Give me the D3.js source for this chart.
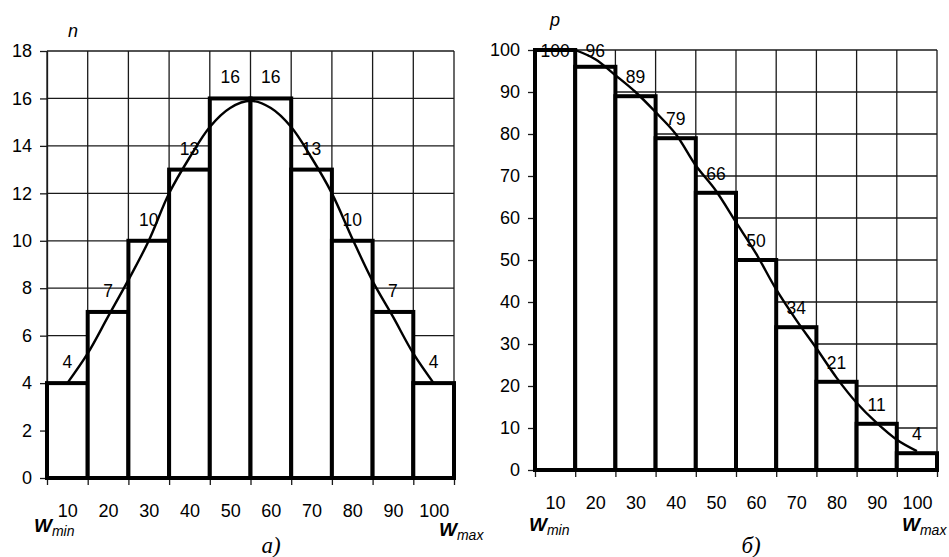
<!DOCTYPE html>
<html><head><meta charset="utf-8">
<script src="https://cdn.jsdelivr.net/npm/d3@7"></script>
<style>
html,body{margin:0;padding:0;background:#fff;}
svg{display:block;font-family:"Liberation Sans",Arial,sans-serif;}
</style></head>
<body>
<svg id="chart" width="949" height="557"></svg>
<script>
// ---- data ----
const binCenters = [10, 20, 30, 40, 50, 60, 70, 80, 90, 100];
const binEdges = [5, 15, 25, 35, 45, 55, 65, 75, 85, 95, 105];
const tickLabels = ["10", "20", "30", "40", "50", "60", "70", "80", "90", "100"];
const countValues = [4, 7, 10, 13, 16, 16, 13, 10, 7, 4];
const probValues = [100, 96, 89, 79, 66, 50, 34, 21, 11, 4];
const countTicks = [0, 2, 4, 6, 8, 10, 12, 14, 16, 18];
const probTicks = [0, 10, 20, 30, 40, 50, 60, 70, 80, 90, 100];
const countCurveX = [10, 15, 20, 25, 30, 35, 40, 45, 50, 55, 60, 65, 70, 75, 80, 85, 90, 95, 100];
const countCurveY = [4.0, 5.25, 6.8, 8.35, 10.0, 12.0, 13.5, 14.8, 15.6, 15.9, 15.6, 14.8, 13.5, 12.0, 10.1, 8.3, 6.8, 5.25, 4.0];
const probCurveX = [15, 20, 25, 30, 35, 40, 45, 50, 55, 60, 65, 70, 75, 80, 85, 90, 95, 100];
const probCurveY = [100, 97.8, 94, 90, 85.2, 80, 72.5, 66.5, 59, 51.5, 43, 35.7, 29, 22, 16, 11.2, 7.2, 4.5];

const svg = d3.select("#chart");

function panel(cfg) {
  const g = svg.append("g");
  const x = d3.scaleLinear().domain([5, 105]).range(cfg.xr);
  const y = d3.scaleLinear().domain([0, cfg.max]).range(cfg.yr);

  // grid
  g.append("g").selectAll("line").data(cfg.ticks).join("line")
    .attr("x1", x(5)).attr("x2", x(105))
    .attr("y1", d => y(d)).attr("y2", d => y(d))
    .attr("stroke", "#1a1a1a").attr("stroke-width", 1.3);
  g.append("g").selectAll("line").data(binEdges).join("line")
    .attr("x1", d => x(d)).attr("x2", d => x(d))
    .attr("y1", y(0)).attr("y2", y(cfg.max))
    .attr("stroke", "#1a1a1a").attr("stroke-width", 1.3);

  // y axis
  const ya = g.append("g").attr("transform", `translate(${x(5)},0)`)
    .call(d3.axisLeft(y).tickValues(cfg.ticks).tickSize(7).tickSizeOuter(0).tickPadding(8));
  ya.selectAll("text").attr("font-size", 18).attr("fill", "#000")
    .attr("font-family", '"Liberation Sans",Arial,sans-serif');
  ya.selectAll("line,path").attr("stroke", "#1a1a1a").attr("stroke-width", 1.3);

  // x axis tick marks at bin edges
  const xa = g.append("g").attr("transform", `translate(0,${y(0)})`)
    .call(d3.axisBottom(x).tickValues(binEdges).tickSize(7).tickSizeOuter(0).tickFormat(""));
  xa.selectAll("line,path").attr("stroke", "#1a1a1a").attr("stroke-width", 1.3);
  // x labels at bin centers
  const xl = g.append("g").attr("transform", `translate(0,${y(0)})`)
    .call(d3.axisBottom(x).tickValues(binCenters).tickSize(0).tickPadding(26)
      .tickFormat((d, i) => tickLabels[i]));
  xl.select(".domain").remove();
  xl.selectAll("text").attr("font-size", 18).attr("fill", "#000")
    .attr("font-family", '"Liberation Sans",Arial,sans-serif');

  // bars
  const bw = x(15) - x(5);
  g.append("g").selectAll("rect").data(cfg.values).join("rect")
    .attr("x", (d, i) => x(binCenters[i]) - bw / 2)
    .attr("y", d => y(d))
    .attr("width", bw)
    .attr("height", d => y(0) - y(d))
    .attr("fill", "#fff").attr("stroke", "#000").attr("stroke-width", 4);

  // curve
  const line = d3.line().x(d => x(d[0])).y(d => y(d[1])).curve(d3.curveCatmullRom.alpha(0.5));
  g.append("path").datum(cfg.cx.map((v, i) => [v, cfg.cy[i]]))
    .attr("d", line).attr("fill", "none").attr("stroke", "#000").attr("stroke-width", 2.4);

  // value labels
  g.append("g").selectAll("text").data(cfg.values).join("text")
    .attr("x", (d, i) => x(binCenters[i]))
    .attr("y", d => Math.max(y(d) - cfg.off, y(cfg.max) + 7))
    .attr("text-anchor", "middle").attr("font-size", 17.5).attr("fill", "#000")
    .text(d => d);

  return { x, y };
}

panel({ xr: [47, 454], yr: [478, 51], max: 18, ticks: countTicks, values: countValues,
        cx: countCurveX, cy: countCurveY, off: 15 });
panel({ xr: [535, 937], yr: [470, 50], max: 100, ticks: probTicks, values: probValues,
        cx: probCurveX, cy: probCurveY, off: 13 });

// axis titles
svg.append("text").attr("x", 68).attr("y", 37).attr("font-size", 18).attr("font-style", "italic").text("n");
svg.append("text").attr("x", 550).attr("y", 26).attr("font-size", 18).attr("font-style", "italic").text("p");

function wLabel(x0, yb, sub) {
  const t = svg.append("text").attr("x", x0).attr("y", yb).attr("font-style", "italic").attr("fill", "#000");
  t.append("tspan").attr("font-size", 19).attr("font-weight", "bold").text("W");
  t.append("tspan").attr("font-size", 14).attr("dy", 4).text(sub);
}
wLabel(34, 532, "min");
wLabel(439, 536, "max");
wLabel(529, 531, "min");
wLabel(902, 531, "max");

svg.append("text").attr("x", 271).attr("y", 553).attr("text-anchor", "middle")
  .attr("font-family", '"Liberation Serif","Times New Roman",serif').attr("font-style", "italic")
  .attr("font-size", 23).text("а)");
svg.append("text").attr("x", 751).attr("y", 553).attr("text-anchor", "middle")
  .attr("font-family", '"Liberation Serif","Times New Roman",serif').attr("font-style", "italic")
  .attr("font-size", 23).text("б)");
</script>
</body></html>
